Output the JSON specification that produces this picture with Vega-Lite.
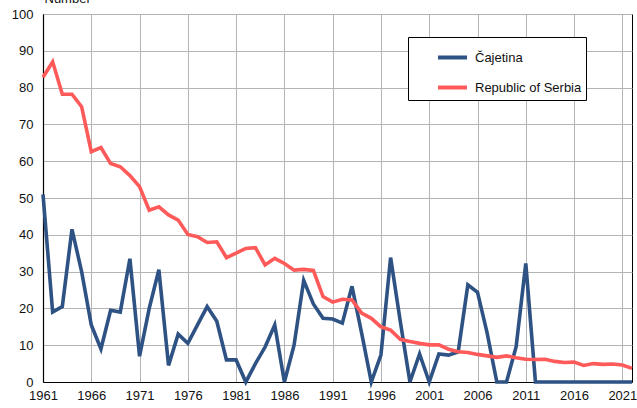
{
  "$schema": "https://vega.github.io/schema/vega-lite/v6.json",
  "width": 589,
  "height": 368,
  "autosize": {"type": "none"},
  "padding": {"left": 43, "top": 14, "right": 5, "bottom": 26},
  "background": "white",
  "config": {
    "font": "Liberation Sans",
    "view": {"stroke": "black", "strokeWidth": 1},
    "axis": {
      "labelFont": "Liberation Sans",
      "labelFontSize": 13,
      "labelColor": "#111111",
      "gridColor": "#b4b4b4",
      "gridWidth": 1,
      "domainColor": "black",
      "domainWidth": 1.2,
      "ticks": false
    },
    "legend": {
      "orient": "none",
      "legendX": 365,
      "legendY": 23,
      "strokeColor": "black",
      "strokeWidth": 1,
      "fillColor": "white",
      "padding": 4,
      "symbolOffset": 24,
      "rowPadding": 5,
      "labelFont": "Liberation Sans",
      "labelFontSize": 13,
      "labelColor": "#111111",
      "labelOffset": 6,
      "symbolType": "stroke",
      "symbolSize": 841,
      "symbolStrokeWidth": 4
    }
  },
  "data": {
    "values": [
      {"year": 1961, "region": "Čajetina", "value": 51},
      {"year": 1962, "region": "Čajetina", "value": 19},
      {"year": 1963, "region": "Čajetina", "value": 20.5},
      {"year": 1964, "region": "Čajetina", "value": 41.5},
      {"year": 1965, "region": "Čajetina", "value": 30},
      {"year": 1966, "region": "Čajetina", "value": 15.5},
      {"year": 1967, "region": "Čajetina", "value": 9},
      {"year": 1968, "region": "Čajetina", "value": 19.5},
      {"year": 1969, "region": "Čajetina", "value": 19},
      {"year": 1970, "region": "Čajetina", "value": 33.5},
      {"year": 1971, "region": "Čajetina", "value": 7},
      {"year": 1972, "region": "Čajetina", "value": 20},
      {"year": 1973, "region": "Čajetina", "value": 30.5},
      {"year": 1974, "region": "Čajetina", "value": 4.5},
      {"year": 1975, "region": "Čajetina", "value": 13},
      {"year": 1976, "region": "Čajetina", "value": 10.5},
      {"year": 1977, "region": "Čajetina", "value": 15.5},
      {"year": 1978, "region": "Čajetina", "value": 20.5},
      {"year": 1979, "region": "Čajetina", "value": 16.5},
      {"year": 1980, "region": "Čajetina", "value": 6},
      {"year": 1981, "region": "Čajetina", "value": 6},
      {"year": 1982, "region": "Čajetina", "value": 0},
      {"year": 1983, "region": "Čajetina", "value": 5},
      {"year": 1984, "region": "Čajetina", "value": 9.5},
      {"year": 1985, "region": "Čajetina", "value": 15.5},
      {"year": 1986, "region": "Čajetina", "value": 0},
      {"year": 1987, "region": "Čajetina", "value": 10},
      {"year": 1988, "region": "Čajetina", "value": 27.6},
      {"year": 1989, "region": "Čajetina", "value": 21.2},
      {"year": 1990, "region": "Čajetina", "value": 17.3},
      {"year": 1991, "region": "Čajetina", "value": 17.1},
      {"year": 1992, "region": "Čajetina", "value": 16},
      {"year": 1993, "region": "Čajetina", "value": 26},
      {"year": 1994, "region": "Čajetina", "value": 13.3},
      {"year": 1995, "region": "Čajetina", "value": 0},
      {"year": 1996, "region": "Čajetina", "value": 7.4},
      {"year": 1997, "region": "Čajetina", "value": 33.8},
      {"year": 1998, "region": "Čajetina", "value": 16.5},
      {"year": 1999, "region": "Čajetina", "value": 0},
      {"year": 2000, "region": "Čajetina", "value": 7.6},
      {"year": 2001, "region": "Čajetina", "value": 0},
      {"year": 2002, "region": "Čajetina", "value": 7.6},
      {"year": 2003, "region": "Čajetina", "value": 7.3},
      {"year": 2004, "region": "Čajetina", "value": 8.2},
      {"year": 2005, "region": "Čajetina", "value": 26.4},
      {"year": 2006, "region": "Čajetina", "value": 24.4},
      {"year": 2007, "region": "Čajetina", "value": 13.3},
      {"year": 2008, "region": "Čajetina", "value": 0},
      {"year": 2009, "region": "Čajetina", "value": 0},
      {"year": 2010, "region": "Čajetina", "value": 9.6},
      {"year": 2011, "region": "Čajetina", "value": 32.2},
      {"year": 2012, "region": "Čajetina", "value": 0},
      {"year": 2013, "region": "Čajetina", "value": 0},
      {"year": 2014, "region": "Čajetina", "value": 0},
      {"year": 2015, "region": "Čajetina", "value": 0},
      {"year": 2016, "region": "Čajetina", "value": 0},
      {"year": 2017, "region": "Čajetina", "value": 0},
      {"year": 2018, "region": "Čajetina", "value": 0},
      {"year": 2019, "region": "Čajetina", "value": 0},
      {"year": 2020, "region": "Čajetina", "value": 0},
      {"year": 2021, "region": "Čajetina", "value": 0},
      {"year": 2022, "region": "Čajetina", "value": 0},
      {"year": 1961, "region": "Republic of Serbia", "value": 82.8},
      {"year": 1962, "region": "Republic of Serbia", "value": 87},
      {"year": 1963, "region": "Republic of Serbia", "value": 78.2},
      {"year": 1964, "region": "Republic of Serbia", "value": 78.2},
      {"year": 1965, "region": "Republic of Serbia", "value": 74.8},
      {"year": 1966, "region": "Republic of Serbia", "value": 62.6},
      {"year": 1967, "region": "Republic of Serbia", "value": 63.7},
      {"year": 1968, "region": "Republic of Serbia", "value": 59.4},
      {"year": 1969, "region": "Republic of Serbia", "value": 58.5},
      {"year": 1970, "region": "Republic of Serbia", "value": 56.1},
      {"year": 1971, "region": "Republic of Serbia", "value": 53.1},
      {"year": 1972, "region": "Republic of Serbia", "value": 46.7},
      {"year": 1973, "region": "Republic of Serbia", "value": 47.6},
      {"year": 1974, "region": "Republic of Serbia", "value": 45.4},
      {"year": 1975, "region": "Republic of Serbia", "value": 44},
      {"year": 1976, "region": "Republic of Serbia", "value": 40.1},
      {"year": 1977, "region": "Republic of Serbia", "value": 39.5},
      {"year": 1978, "region": "Republic of Serbia", "value": 37.9},
      {"year": 1979, "region": "Republic of Serbia", "value": 38.1},
      {"year": 1980, "region": "Republic of Serbia", "value": 33.8},
      {"year": 1981, "region": "Republic of Serbia", "value": 35},
      {"year": 1982, "region": "Republic of Serbia", "value": 36.3},
      {"year": 1983, "region": "Republic of Serbia", "value": 36.5},
      {"year": 1984, "region": "Republic of Serbia", "value": 31.8},
      {"year": 1985, "region": "Republic of Serbia", "value": 33.6},
      {"year": 1986, "region": "Republic of Serbia", "value": 32.2},
      {"year": 1987, "region": "Republic of Serbia", "value": 30.4},
      {"year": 1988, "region": "Republic of Serbia", "value": 30.6},
      {"year": 1989, "region": "Republic of Serbia", "value": 30.3},
      {"year": 1990, "region": "Republic of Serbia", "value": 23.2},
      {"year": 1991, "region": "Republic of Serbia", "value": 21.7},
      {"year": 1992, "region": "Republic of Serbia", "value": 22.5},
      {"year": 1993, "region": "Republic of Serbia", "value": 22.3},
      {"year": 1994, "region": "Republic of Serbia", "value": 18.7},
      {"year": 1995, "region": "Republic of Serbia", "value": 17.3},
      {"year": 1996, "region": "Republic of Serbia", "value": 15},
      {"year": 1997, "region": "Republic of Serbia", "value": 14.1},
      {"year": 1998, "region": "Republic of Serbia", "value": 11.6},
      {"year": 1999, "region": "Republic of Serbia", "value": 11},
      {"year": 2000, "region": "Republic of Serbia", "value": 10.5},
      {"year": 2001, "region": "Republic of Serbia", "value": 10.1},
      {"year": 2002, "region": "Republic of Serbia", "value": 10.1},
      {"year": 2003, "region": "Republic of Serbia", "value": 8.9},
      {"year": 2004, "region": "Republic of Serbia", "value": 8.2},
      {"year": 2005, "region": "Republic of Serbia", "value": 8},
      {"year": 2006, "region": "Republic of Serbia", "value": 7.5},
      {"year": 2007, "region": "Republic of Serbia", "value": 7.1},
      {"year": 2008, "region": "Republic of Serbia", "value": 6.7},
      {"year": 2009, "region": "Republic of Serbia", "value": 7.1},
      {"year": 2010, "region": "Republic of Serbia", "value": 6.6},
      {"year": 2011, "region": "Republic of Serbia", "value": 6.2},
      {"year": 2012, "region": "Republic of Serbia", "value": 6.1},
      {"year": 2013, "region": "Republic of Serbia", "value": 6.2},
      {"year": 2014, "region": "Republic of Serbia", "value": 5.6},
      {"year": 2015, "region": "Republic of Serbia", "value": 5.3},
      {"year": 2016, "region": "Republic of Serbia", "value": 5.4},
      {"year": 2017, "region": "Republic of Serbia", "value": 4.5},
      {"year": 2018, "region": "Republic of Serbia", "value": 5},
      {"year": 2019, "region": "Republic of Serbia", "value": 4.8},
      {"year": 2020, "region": "Republic of Serbia", "value": 4.9},
      {"year": 2021, "region": "Republic of Serbia", "value": 4.6},
      {"year": 2022, "region": "Republic of Serbia", "value": 3.7}
    ]
  },
  "mark": {"type": "line", "strokeWidth": 3.6, "strokeJoin": "miter", "clip": false},
  "encoding": {
    "x": {
      "field": "year",
      "type": "quantitative",
      "scale": {"domain": [1961, 2022], "nice": false, "zero": false},
      "axis": {
        "values": [1961, 1966, 1971, 1976, 1981, 1986, 1991, 1996, 2001, 2006, 2011, 2016, 2021],
        "format": "d",
        "title": null,
        "labelPadding": 7,
        "labelFlush": false,
        "labelOverlap": false
      }
    },
    "y": {
      "field": "value",
      "type": "quantitative",
      "scale": {"domain": [0, 100], "nice": false},
      "axis": {
        "values": [0, 10, 20, 30, 40, 50, 60, 70, 80, 90, 100],
        "title": "Number",
        "titleAngle": 0,
        "titleAlign": "left",
        "titleBaseline": "alphabetic",
        "titleX": 1,
        "titleY": -12,
        "titleFont": "Liberation Sans",
        "titleFontSize": 13,
        "titleFontWeight": "normal",
        "titleColor": "#111111",
        "labelPadding": 10,
        "labelFlush": false
      }
    },
    "color": {
      "field": "region",
      "type": "nominal",
      "scale": {"domain": ["Čajetina", "Republic of Serbia"], "range": ["#2E5283", "#FF5A5A"]},
      "legend": {"title": null, "labelExpr": "datum.label + '\u00a0\u00a0\u00a0\u00a0\u00a0\u00a0\u00a0\u00a0\u00a0\u00a0\u00a0\u00a0\u00a0'"}
    }
  }
}
